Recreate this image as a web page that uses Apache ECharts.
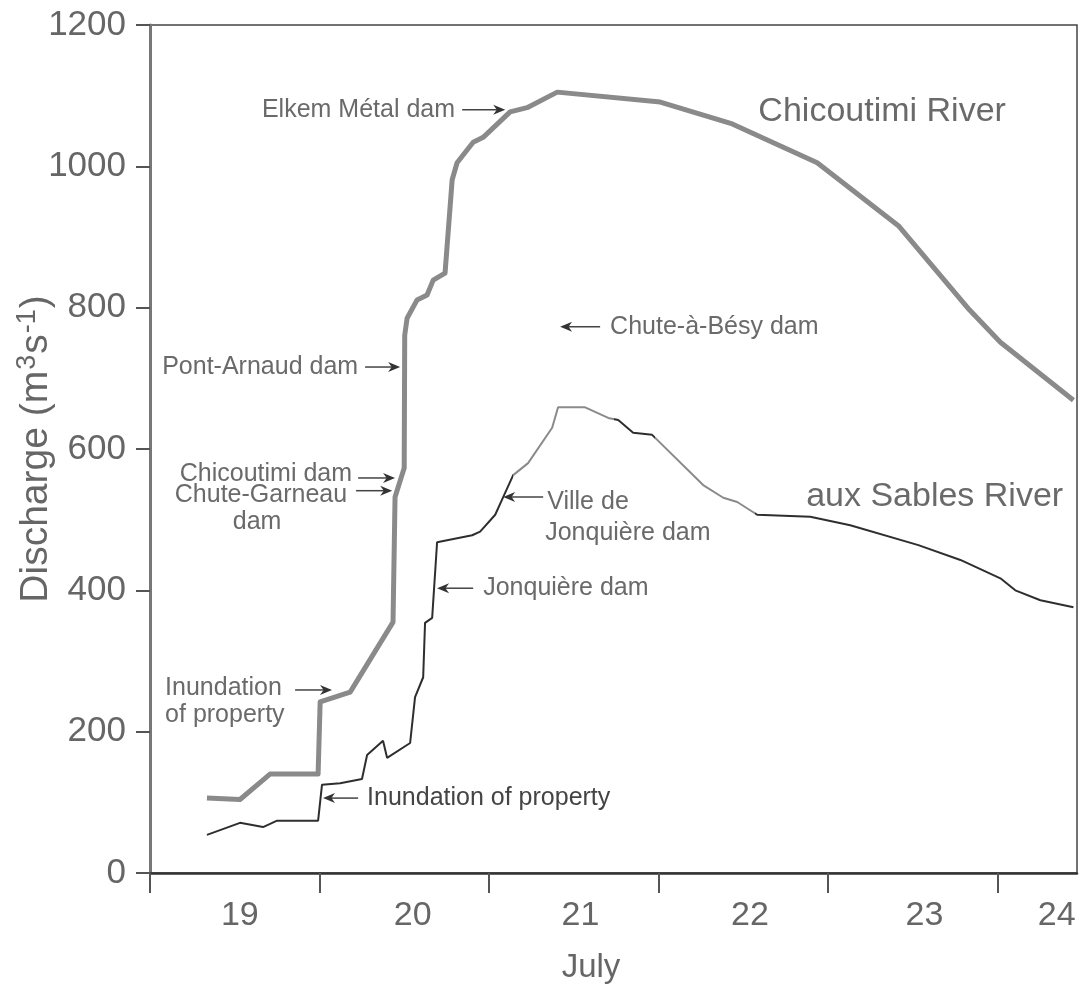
<!DOCTYPE html>
<html><head><meta charset="utf-8">
<script src="https://cdn.jsdelivr.net/npm/echarts@6/dist/echarts.min.js"></script>
<style>html,body{margin:0;padding:0;background:#fff}#c{width:1080px;height:991px}</style>
</head><body><div id="c"></div>
<script>
// Day of July (fractional, 19.0 = midnight starting July 19) and discharge (m3/s)
const chicoutimiDays = [19.336,19.531,19.708,19.992,20.004,20.181,20.434,20.446,20.500,20.503,20.517,20.576,20.635,20.671,20.741,20.783,20.812,20.907,20.966,21.125,21.225,21.403,22.011,22.436,22.937,23.416,23.835,24.018,24.449];
const chicoutimiQ    = [106,104,140,140,242,256,355,532,573,761,785,811,818,839,849,981,1005,1034,1041,1077,1083,1105,1091,1060,1005,916,797,751,669];
const sablesDays = [19.336,19.531,19.667,19.750,19.992,20.015,20.122,20.251,20.281,20.375,20.399,20.535,20.564,20.612,20.623,20.665,20.694,20.901,20.948,21.037,21.084,21.143,21.231,21.373,21.408,21.568,21.704,21.763,21.851,21.963,22.264,22.383,22.465,22.583,22.896,23.132,23.534,23.782,24.018,24.106,24.254,24.449];
const sablesQ    = [54,71,65,74,74,125,127,133,167,187,163,184,249,277,354,361,468,478,483,507,532,563,580,630,659,659,644,641,623,620,549,531,525,507,504,492,464,443,417,400,386,376];
const dayTicks = [19,20,21,22,23,24];
const dayLabelPos = [19.53,20.55,21.54,22.54,23.57,24.35];
const dayLabels = ['19','20','21','22','23','24'];
// Annotations: text, anchor [day, Q], alignment, optional arrow [tail] -> [tip]
const notes = [
  {text:'Elkem Métal dam', at:[20.80,1080], align:'right', arrow:[[20.842,1080],[21.096,1080]]},
  {text:'Pont-Arnaud dam', at:[20.228,716], align:'right', arrow:[[20.269,716],[20.476,716]]},
  {text:'Chute-à-Bésy dam', at:[21.715,773], align:'left', arrow:[[21.656,773],[21.42,773]]},
  {text:'Chicoutimi dam', at:[20.192,565], align:'right', arrow:[[20.228,559],[20.446,559]]},
  {text:'Chute-Garneau', at:[20.163,535], align:'right', arrow:[[20.216,541],[20.429,541]]},
  {text:'dam', at:[19.632,497], align:'center'},
  {text:'Inundation', at:[19.089,262], align:'left', arrow:[[19.856,259],[20.074,259]]},
  {text:'of property', at:[19.089,224], align:'left'},
  {text:'Inundation of property', at:[20.281,106], align:'left', arrow:[[20.228,106],[20.021,106]], dark:true},
  {text:'Jonquière dam', at:[20.966,403], align:'left', arrow:[[20.907,403],[20.694,403]]},
  {text:'Ville de', at:[21.344,525], align:'left', arrow:[[21.32,532],[21.084,532]]},
  {text:'Jonquière dam', at:[21.332,481], align:'left'},
  {text:'Chicoutimi River', at:[23.32,1077], align:'center', big:true},
  {text:'aux Sables River', at:[23.63,532], align:'center', big:true}
];

const FONT = "'Liberation Sans', Arial, Helvetica, sans-serif";
const chart = echarts.init(document.getElementById('c'));
const zip = (a,b)=>a.map((v,i)=>[v,b[i]]);
chart.setOption({
  animation:false,
  backgroundColor:'#fff',
  grid:{left:150,right:3,top:25,bottom:118,show:true,borderColor:'#444',borderWidth:1.5,
    backgroundColor:'transparent',containLabel:false,outerBoundsMode:'none'},
  xAxis:{type:'value',min:19,max:24.47,interval:1,
    name:'July',nameLocation:'middle',nameGap:78,nameMoveOverlap:false,
    nameTextStyle:{fontFamily:FONT,fontSize:33,color:'#666',padding:[0,45,0,0]},
    axisLine:{show:true,lineStyle:{color:'#333',width:2.5}},
    axisTick:{show:true,length:20,lineStyle:{color:'#555',width:2},customValues:dayTicks},
    axisLabel:{fontFamily:FONT,fontSize:34,color:'#666',margin:26,customValues:dayLabelPos,
      formatter:v=>dayLabels[dayLabelPos.findIndex(p=>Math.abs(p-v)<1e-6)] ?? ''},
    splitLine:{show:false}},
  yAxis:{type:'value',min:0,max:1200,interval:200,
    name:'{a|Discharge (m}{s|3}{a|s}{s|-1}{a|)}',nameLocation:'middle',nameGap:92,nameMoveOverlap:false,
    nameTextStyle:{fontFamily:FONT,fontSize:39,color:'#666',
      rich:{a:{fontFamily:FONT,fontSize:39,color:'#666',lineHeight:44},
            s:{fontFamily:FONT,fontSize:27,color:'#666',lineHeight:44,padding:[0,1,16,1]}}},
    axisLine:{show:true,lineStyle:{color:'#777',width:3}},
    axisTick:{show:true,length:14,lineStyle:{color:'#555',width:2}},
    axisLabel:{fontFamily:FONT,fontSize:35,color:'#666',margin:24,formatter:v=>String(v)},
    splitLine:{show:false}},
  visualMap:{type:'piecewise',show:false,dimension:0,seriesIndex:1,
    pieces:[{lt:21.14,color:'#2e2e2e'},{gte:21.14,lt:21.74,color:'#8a8a8a'},{gte:21.74,lt:21.98,color:'#2e2e2e'},{gte:21.98,lt:22.57,color:'#8a8a8a'},{gte:22.57,color:'#2e2e2e'}]},
  series:[
    {name:'Chicoutimi River',type:'line',data:zip(chicoutimiDays,chicoutimiQ),showSymbol:false,
      lineStyle:{color:'#8a8a8a',width:5,join:'round'},z:3},
    {name:'aux Sables River',type:'line',data:zip(sablesDays,sablesQ),showSymbol:false,
      lineStyle:{width:2},z:2}
  ]
});

const g = [];
notes.forEach(n=>{
  const p = chart.convertToPixel({gridIndex:0}, n.at);
  g.push({type:'text',x:p[0],y:p[1],z:10,style:{text:n.text,fontFamily:FONT,fontSize:n.big?34:25,
    fill:n.dark?'#444':'#6a6a6a',align:n.align,verticalAlign:'middle'}});
  if(n.arrow){
    const a = chart.convertToPixel({gridIndex:0}, n.arrow[0]);
    const b = chart.convertToPixel({gridIndex:0}, n.arrow[1]);
    const dir = Math.sign(b[0]-a[0]);
    const L = 12, W = 5;
    g.push({type:'line',z:10,shape:{x1:a[0],y1:a[1],x2:b[0]-dir*L*0.6,y2:b[1]},style:{stroke:'#444',lineWidth:1.5}});
    g.push({type:'polygon',z:10,shape:{points:[[b[0],b[1]],[b[0]-dir*L,b[1]-W],[b[0]-dir*L*0.7,b[1]],[b[0]-dir*L,b[1]+W]]},style:{fill:'#333'}});
  }
});
chart.setOption({graphic:g});
</script></body></html>
